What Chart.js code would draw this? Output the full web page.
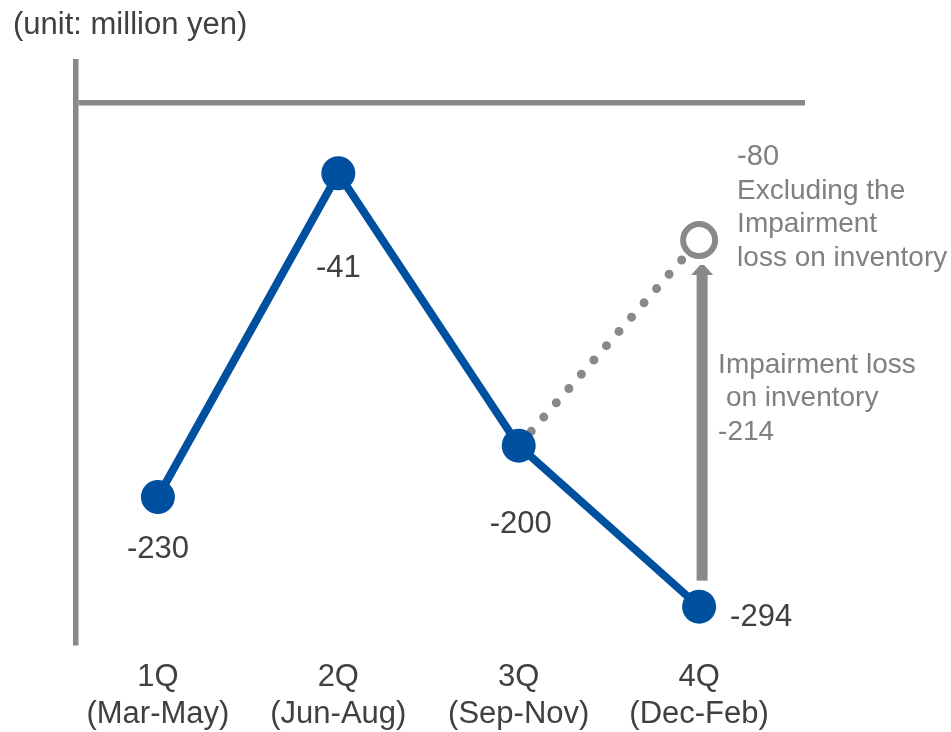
<!DOCTYPE html>
<html>
<head>
<meta charset="utf-8">
<title>Quarterly operating income</title>
<script src="https://cdn.jsdelivr.net/npm/chart.js@4/dist/chart.umd.min.js"></script>
<style>
  html, body { margin: 0; padding: 0; background: #ffffff; }
  #wrap { position: relative; width: 951px; height: 732px; }
</style>
</head>
<body>
<div id="wrap"><canvas id="chart"></canvas></div>
<script>
// Quarter labels (two lines per tick)
const quarters = ['1Q', '2Q', '3Q', '4Q'];
const periods = ['(Mar-May)', '(Jun-Aug)', '(Sep-Nov)', '(Dec-Feb)'];

// Operating income by quarter, million yen
const operatingIncome = [-230, -41, -200, -294];

// 4Q figure before the inventory write-down, and the write-down itself
const excludingImpairment4Q = -80;
const impairmentLoss4Q = -214;

const unitText = '(unit: million yen)';
const excludingLines = ['Excluding the', 'Impairment', 'loss on inventory'];
const impairmentLines = ['Impairment loss', ' on inventory'];

const BLUE = '#0050a0';
const GRAY = '#898989';
const TEXT_DARK = '#404040';
const TEXT_GRAY = '#808080';
const FONT = '"Liberation Sans", Arial, sans-serif';

const mainPoints = operatingIncome.map((v, i) => ({ x: i + 1, y: v }));
const adjustedPoints = [
  { x: 3, y: operatingIncome[2] },
  { x: 4, y: excludingImpairment4Q }
];

// Value labels, arrow and notes drawn on top of the plotted series
const annotations = {
  id: 'annotations',
  afterDatasetsDraw(chart) {
    const ctx = chart.ctx;
    const xs = chart.scales.x;
    const ys = chart.scales.y;
    ctx.save();

    // unit caption
    ctx.font = '31px ' + FONT;
    ctx.fillStyle = TEXT_DARK;
    ctx.textAlign = 'left';
    ctx.textBaseline = 'middle';
    ctx.fillText(unitText, 13, 25);

    // value labels next to each quarter point
    const offsets = [
      { dx: 0, dy: 52, align: 'center' },
      { dx: 0, dy: 95, align: 'center' },
      { dx: 2, dy: 79, align: 'center' },
      { dx: 31, dy: 11, align: 'left' }
    ];
    ctx.font = '31px ' + FONT;
    ctx.fillStyle = TEXT_DARK;
    operatingIncome.forEach((v, i) => {
      const px = xs.getPixelForValue(i + 1);
      const py = ys.getPixelForValue(v);
      const o = offsets[i];
      ctx.textAlign = o.align;
      ctx.fillText(String(v), px + o.dx, py + o.dy);
    });

    // arrow from the reported 4Q value up to the adjusted value
    const ax = xs.getPixelForValue(4) + 3;
    const yFrom = ys.getPixelForValue(operatingIncome[3]) - 26;
    const yTip = ys.getPixelForValue(excludingImpairment4Q) + 25;
    const headH = 10, headW = 22, shaftW = 11;
    ctx.fillStyle = GRAY;
    ctx.fillRect(ax - shaftW / 2, yTip + headH - 1, shaftW, yFrom - (yTip + headH - 1));
    ctx.beginPath();
    ctx.moveTo(ax - 2, yTip);
    ctx.lineTo(ax + 2, yTip);
    ctx.lineTo(ax + headW / 2, yTip + headH);
    ctx.lineTo(ax - headW / 2, yTip + headH);
    ctx.closePath();
    ctx.fill();

    // adjusted value and its note
    const hx = xs.getPixelForValue(4);
    const hy = ys.getPixelForValue(excludingImpairment4Q);
    ctx.fillStyle = TEXT_GRAY;
    ctx.textAlign = 'left';
    ctx.font = '29px ' + FONT;
    ctx.fillText(String(excludingImpairment4Q), hx + 38, hy - 83);
    ctx.font = '28px ' + FONT;
    excludingLines.forEach((t, i) => ctx.fillText(t, hx + 38, hy - 49 + i * 33.5));

    // write-down note beside the arrow
    const mid = (yFrom + yTip) / 2;
    const noteLines = impairmentLines.concat([String(impairmentLoss4Q)]);
    noteLines.forEach((t, i) => ctx.fillText(t, hx + 19, mid - 58 + i * 33.5));

    ctx.restore();
  }
};

new Chart(document.getElementById('chart'), {
  type: 'line',
  data: {
    datasets: [
      {
        data: mainPoints,
        borderColor: BLUE,
        borderWidth: 8,
        pointRadius: 17,
        pointBackgroundColor: BLUE,
        pointBorderWidth: 0,
        tension: 0
      },
      {
        data: adjustedPoints,
        borderColor: GRAY,
        borderWidth: 9,
        borderDash: [0, 19],
        borderCapStyle: 'round',
        pointRadius: [0, 16],
        pointBackgroundColor: '#ffffff',
        pointBorderColor: GRAY,
        pointBorderWidth: 6,
        tension: 0
      }
    ]
  },
  options: {
    responsive: true,
    maintainAspectRatio: false,
    animation: false,
    events: [],
    layout: { padding: { left: 76, right: 146, top: 62, bottom: -17 } },
    plugins: {
      legend: { display: false },
      tooltip: { enabled: false },
      title: { display: false }
    },
    scales: {
      x: {
        type: 'linear',
        min: 0.546,
        max: 4.587,
        afterBuildTicks: (scale) => {
          scale.ticks = quarters.map((q, i) => ({ value: i + 1 }));
        },
        ticks: {
          autoSkip: false,
          maxRotation: 0,
          padding: 16,
          color: TEXT_DARK,
          font: { family: FONT, size: 31, lineHeight: 1.2 },
          callback: (value) => {
            const i = Math.round(value) - 1;
            return [quarters[i], periods[i]];
          }
        },
        grid: { display: false, drawTicks: false },
        border: { display: false }
      },
      y: {
        min: -315,
        max: 24,
        afterBuildTicks: (scale) => {
          scale.ticks = [{ value: 0 }];
        },
        ticks: { display: false },
        grid: { color: GRAY, lineWidth: 5.5, drawTicks: false },
        border: { display: true, color: GRAY, width: 5.5 }
      }
    }
  },
  plugins: [annotations]
});
</script>
</body>
</html>
